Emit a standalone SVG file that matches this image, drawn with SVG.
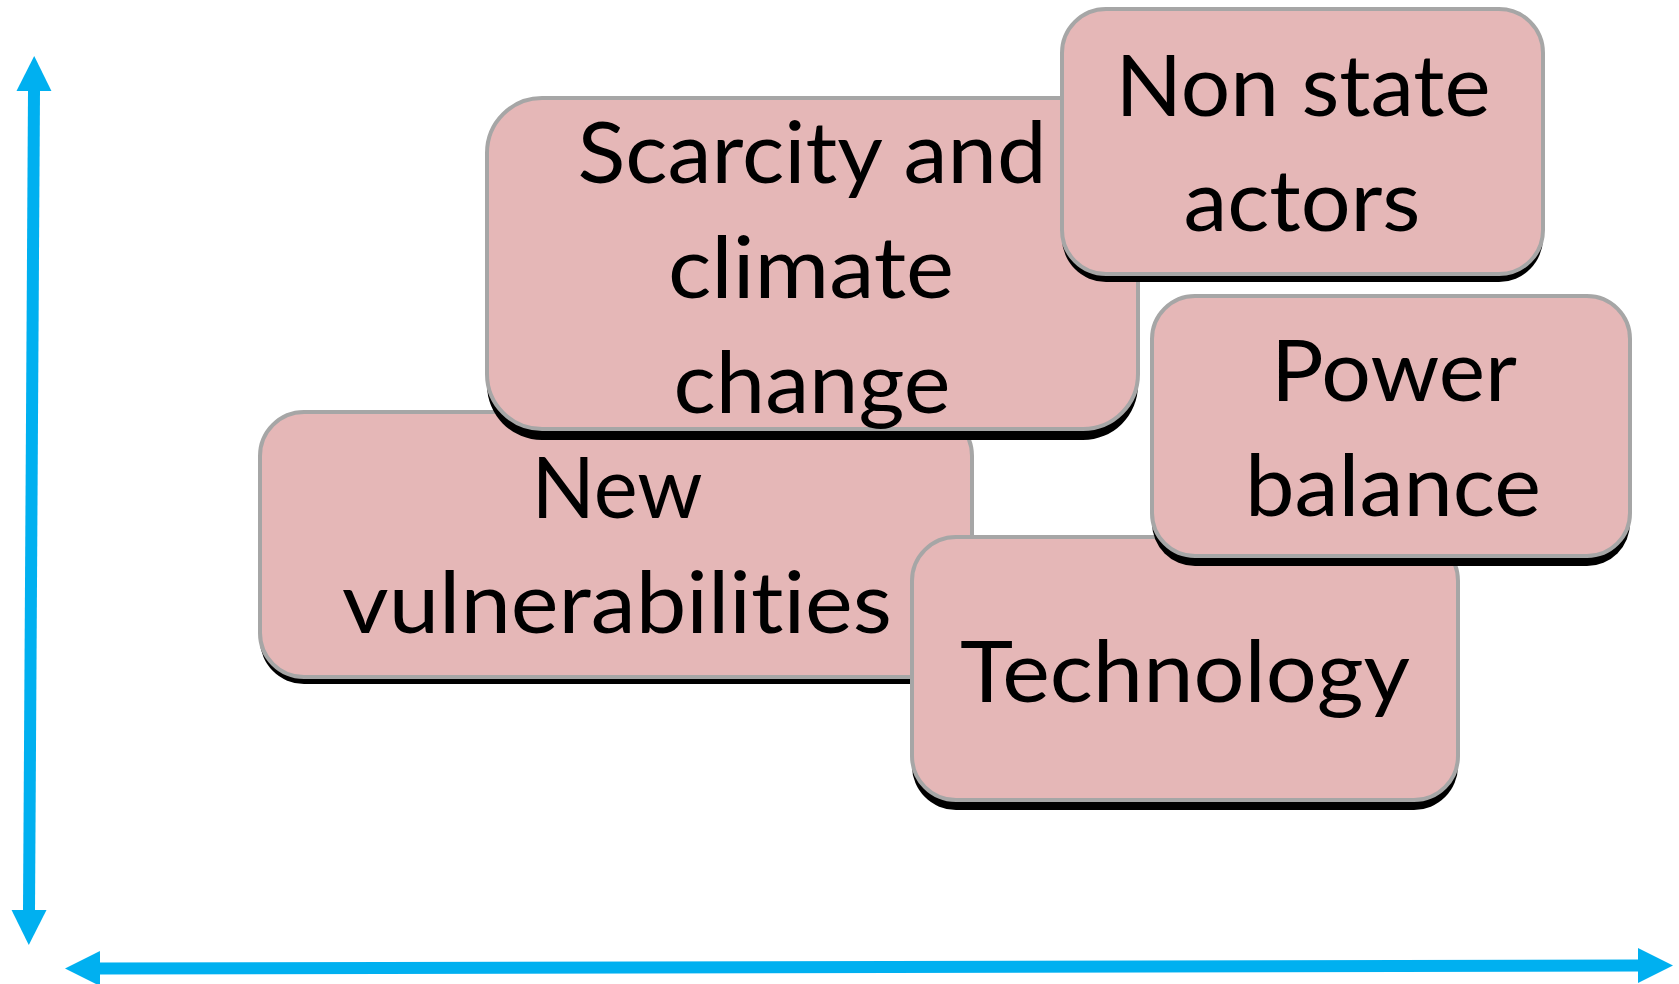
<svg xmlns="http://www.w3.org/2000/svg" width="1679" height="984" viewBox="0 0 1679 984">
<style>
.sh{fill:#000000;}
.bx{fill:#E5B7B7;stroke:#A6A6A6;stroke-width:4;}
.t{font-family:Lato,"Open Sans","Liberation Sans",sans-serif;font-size:85px;fill:#000000;text-anchor:middle;font-variant-ligatures:none;font-feature-settings:"liga" 0,"clig" 0,"dlig" 0;}
.ax{stroke:#00B0F0;stroke-width:12;fill:none;}
</style>
<defs>
<marker id="ah" markerUnits="userSpaceOnUse" markerWidth="36" markerHeight="36" viewBox="0 -18 36 36" refX="0" refY="0" orient="auto-start-reverse">
<path d="M0,-17.5 L35,0 L0,17.5 Z" fill="#00B0F0"/>
</marker>
</defs>
<rect width="1679" height="984" fill="#FFFFFF"/>
<g id="connectors">
<line class="ax" x1="34" y1="91" x2="29" y2="910" marker-start="url(#ah)" marker-end="url(#ah)"/>
<line class="ax" x1="100" y1="968.5" x2="1638" y2="965.5" marker-start="url(#ah)" marker-end="url(#ah)"/>
</g>
<g id="node-new-vulnerabilities">
<rect class="sh" x="260" y="419" width="712" height="265" rx="44"/>
<rect class="bx" x="260" y="412" width="712" height="265" rx="44"/>
<text class="t" x="617" y="518" textLength="171" lengthAdjust="spacingAndGlyphs">New</text>
<text class="t" x="617" y="633" textLength="550" lengthAdjust="spacingAndGlyphs">vulnerabilities</text>
</g>
<g id="node-scarcity">
<rect class="sh" x="487" y="108" width="651" height="332" rx="55"/>
<rect class="bx" x="487" y="98" width="651" height="331" rx="55"/>
<text class="t" x="812" y="183" textLength="469" lengthAdjust="spacingAndGlyphs">Scarcity and</text>
<text class="t" x="811" y="298" textLength="286" lengthAdjust="spacingAndGlyphs">climate</text>
<text class="t" x="812" y="413" textLength="277" lengthAdjust="spacingAndGlyphs">change</text>
</g>
<g id="node-non-state-actors">
<rect class="sh" x="1062" y="17" width="481" height="265" rx="44"/>
<rect class="bx" x="1062" y="9" width="481" height="265" rx="44"/>
<text class="t" x="1303" y="116" textLength="375" lengthAdjust="spacingAndGlyphs">Non state</text>
<text class="t" x="1302" y="231" textLength="237" lengthAdjust="spacingAndGlyphs">actors</text>
</g>
<g id="node-technology">
<rect class="sh" x="912" y="547" width="546" height="263" rx="44"/>
<rect class="bx" x="912" y="537" width="546" height="263" rx="44"/>
<text class="t" x="1185" y="702" textLength="450" lengthAdjust="spacingAndGlyphs">Technology</text>
</g>
<g id="node-power-balance">
<rect class="sh" x="1152" y="306" width="478" height="260" rx="43"/>
<rect class="bx" x="1152" y="296" width="478" height="260" rx="43"/>
<text class="t" x="1394" y="401" textLength="246" lengthAdjust="spacingAndGlyphs">Power</text>
<text class="t" x="1393" y="516" textLength="296" lengthAdjust="spacingAndGlyphs">balance</text>
</g>
</svg>
